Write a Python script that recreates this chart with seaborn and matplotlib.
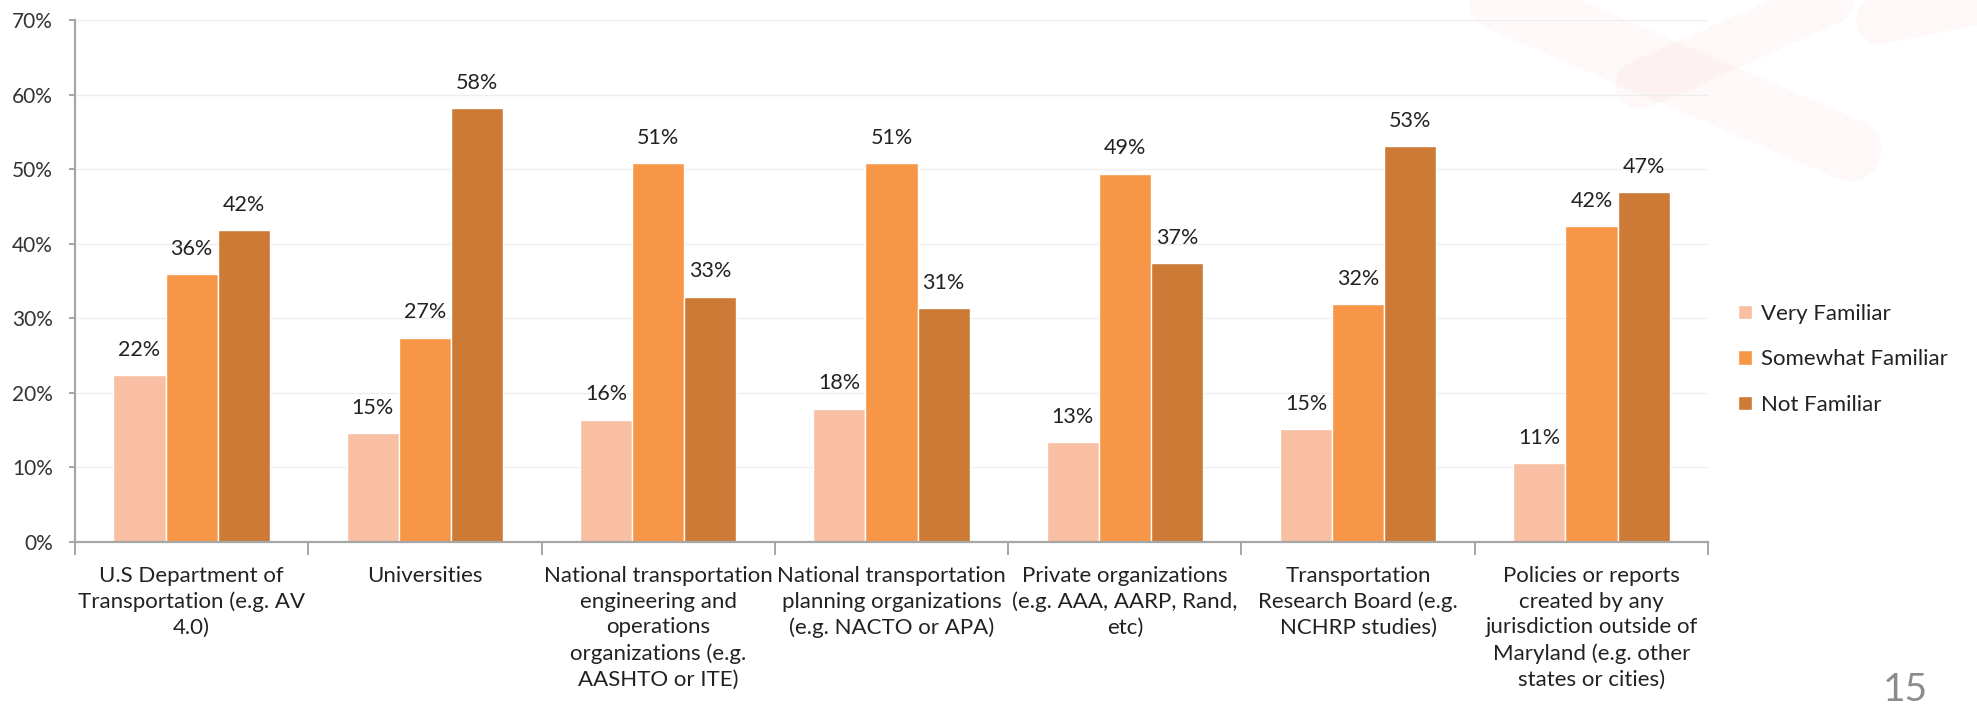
import pandas as pd
import numpy as np
import matplotlib
matplotlib.use('Agg')
import matplotlib.pyplot as plt
from matplotlib.lines import Line2D
from matplotlib.ticker import PercentFormatter, FixedLocator
import seaborn as sns

# Data
categories = [
    'U.S Department of\nTransportation (e.g. AV\n4.0)',
    'Universities',
    'National transportation\nengineering and\noperations\norganizations (e.g.\nAASHTO or ITE)',
    'National transportation\nplanning organizations\n(e.g. NACTO or APA)',
    'Private organizations\n(e.g. AAA, AARP, Rand,\netc)',
    'Transportation\nResearch Board (e.g.\nNCHRP studies)',
    'Policies or reports\ncreated by any\njurisdiction outside of\nMaryland (e.g. other\nstates or cities)',
]
very_familiar = [22.4, 14.6, 16.4, 17.9, 13.4, 15.1, 10.6]
somewhat_familiar = [35.9, 27.4, 50.8, 50.8, 49.4, 31.9, 42.4]
not_familiar = [41.8, 58.2, 32.9, 31.4, 37.4, 53.1, 46.9]
series = ['Very Familiar', 'Somewhat Familiar', 'Not Familiar']
colors = ['#F8BFA3', '#F79646', '#CC7A36']

rows = []
for name, vals in zip(series, [very_familiar, somewhat_familiar, not_familiar]):
    for cat, v in zip(categories, vals):
        rows.append({'Source': cat, 'Familiarity': name, 'Share': v / 100})
df = pd.DataFrame(rows)

sns.set_style('white')
plt.rcParams['font.family'] = ['Lato', 'DejaVu Sans']

fig = plt.figure(figsize=(19.77, 7.09), dpi=100)

# faint slide watermark in the top right corner
W, H = 1977, 709
for xs, ys, lw in [([1500, 1850], [0, 150], 45), ([1830, 1640], [0, 85], 35),
                   ([1880, 1977], [20, 0], 35)]:
    fig.add_artist(Line2D([x / W for x in xs], [1 - y / H for y in ys],
                          transform=fig.transFigure, color='#E8202A', alpha=0.03,
                          linewidth=lw, solid_capstyle='round', zorder=0))

ax = fig.add_axes([0.0379, 0.2355, 0.864 - 0.0379, 0.9718 - 0.2355])
ax.patch.set_alpha(0)

sns.barplot(data=df, x='Source', y='Share', hue='Familiarity', order=categories,
            hue_order=series, palette=colors, width=0.67, gap=0, saturation=1,
            errorbar=None, ax=ax)

# value labels on top of each bar
for cont in ax.containers:
    ax.bar_label(cont, labels=[f'{h * 100:.0f}%' for h in cont.datavalues],
                 padding=11, fontsize=15.5, color='#222222')

ax.set_ylim(0, 0.7)
ax.set_xlim(-0.5, len(categories) - 0.5)
ax.yaxis.set_major_locator(FixedLocator(np.arange(0, 0.71, 0.1)))
ax.yaxis.set_major_formatter(PercentFormatter(1.0, decimals=0))
ax.set_xlabel('')
ax.set_ylabel('')

ax.grid(axis='y', color='#EEEEEE', linewidth=1)
ax.set_axisbelow(True)
for s in ['top', 'right']:
    ax.spines[s].set_visible(False)
for s in ['left', 'bottom']:
    ax.spines[s].set_color('#A6A6A6')
    ax.spines[s].set_linewidth(1.6)

ax.tick_params(axis='y', length=4, width=1.4, color='#A6A6A6', pad=12,
               labelsize=15, labelcolor='#333333', left=True)
ax.tick_params(axis='x', which='major', length=0, pad=17, labelsize=16,
               labelcolor='#222222')
ax.set_xticks(np.arange(-0.5, len(categories)), minor=True)
ax.tick_params(axis='x', which='minor', length=9, width=1.4, color='#A6A6A6',
               bottom=True)
for lbl in ax.get_xticklabels():
    lbl.set_linespacing(1.37)
    lbl.set_ha('center')
    lbl.set_va('top')

leg = ax.legend(loc='center left', bbox_to_anchor=(1.018, 0.35), frameon=False,
                fontsize=16, handlelength=0.65, handleheight=0.65, handletextpad=0.4,
                labelspacing=1.15, labelcolor='#222222', borderaxespad=0,
                borderpad=0)

fig.text(1883 / 1977, 1 - 690 / 709, '15', fontsize=28, color='#8C8C8C',
         ha='left', va='center')

fig.savefig('out.png', dpi=100, facecolor='white')
